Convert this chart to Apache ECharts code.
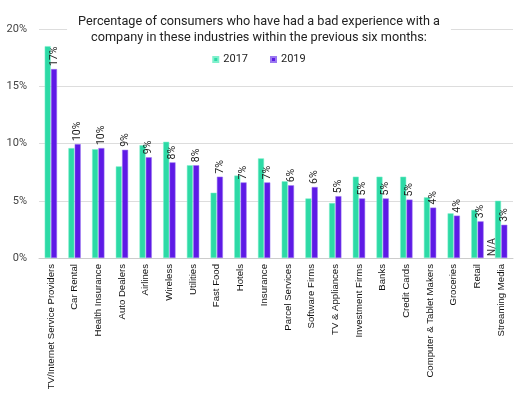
<!DOCTYPE html>
<html><head><meta charset="utf-8">
<script src="https://cdn.jsdelivr.net/npm/echarts@6/dist/echarts.min.js"></script>
<style>html,body{margin:0;padding:0;background:#fff}#c{width:518px;height:396px}</style>
</head><body><div id="c"></div>
<script>
const categories = ["TV/Internet Service Providers","Car Rental","Health Insurance","Auto Dealers","Airlines","Wireless","Utilities","Fast Food","Hotels","Insurance","Parcel Services","Software Firms","TV & Appliances","Investment Firms","Banks","Credit Cards","Computer & Tablet Makers","Groceries","Retail","Streaming Media"];
const values2017 = [18.5,9.6,9.5,8.0,9.85,10.15,8.1,5.7,7.2,8.7,6.7,5.2,4.8,7.1,7.1,7.1,5.3,3.9,4.2,5.0];
const values2019 = [16.5,9.95,9.6,9.45,8.8,8.35,8.1,7.1,6.6,6.6,6.35,6.2,5.4,5.2,5.2,5.1,4.4,3.7,3.2,2.9];
const yTicks = ["0%","5%","10%","15%","20%"];
const naCategory = "Streaming Media";

const chart = echarts.init(document.getElementById('c'));
chart.setOption({
  animation:false,
  title:{
    text:"Percentage of consumers who have had a bad experience with a\ncompany in these industries within the previous six months:",
    left:'center', top:10,
    backgroundColor:'#fff',
    padding:[4,11,4,11],
    textStyle:{fontFamily:'Roboto', fontSize:12.7, fontWeight:'normal', color:'#222', lineHeight:16, align:'center'}
  },
  legend:{
    top:49, left:'center', itemWidth:5, itemHeight:5, itemGap:22, icon:'rect',
    textStyle:{fontFamily:'Roboto', fontSize:11, color:'#222'},
    data:['2017','2019']
  },
  grid:{left:39, right:5, top:29, bottom:138},
  xAxis:{
    type:'category', data:categories,
    axisTick:{show:false},
    axisLine:{lineStyle:{color:'#ccc'}},
    axisLabel:{rotate:90, interval:0, margin:6, fontFamily:'Liberation Sans', fontSize:9.6, color:'#111'}
  },
  yAxis:{
    type:'value', min:0, max:20, interval:5,
    axisLabel:{formatter:v=>yTicks[v/5], fontFamily:'Roboto', fontSize:11, color:'#444', margin:12},
    splitLine:{lineStyle:{color:'#ddd', width:1}},
    axisLine:{show:false}, axisTick:{show:false}
  },
  series:[
    {name:'2017', type:'bar', barWidth:6, barGap:'5%',
     itemStyle:{color:'#2ddaa6', borderColor:'#7ff0cc', borderWidth:0.5},
     data:values2017.map((v,i)=>categories[i]===naCategory?{value:v,label:{show:true,formatter:'N/A',position:'insideBottom',rotate:90,align:'left',verticalAlign:'middle',offset:[0,-6],distance:2,fontFamily:'Roboto',fontSize:10,color:'#333'}}:v)
    },
    {name:'2019', type:'bar', barWidth:6,
     itemStyle:{color:'#5e1ae6', borderColor:'#9a78f0', borderWidth:0.5},
     label:{show:true, position:'top', rotate:90, align:'left', verticalAlign:'middle', distance:3,
       formatter:p=>Math.round(p.value)+'%', fontFamily:'Roboto', fontSize:10.5, color:'#222'},
     data:values2019
    }
  ]
});
</script></body></html>
